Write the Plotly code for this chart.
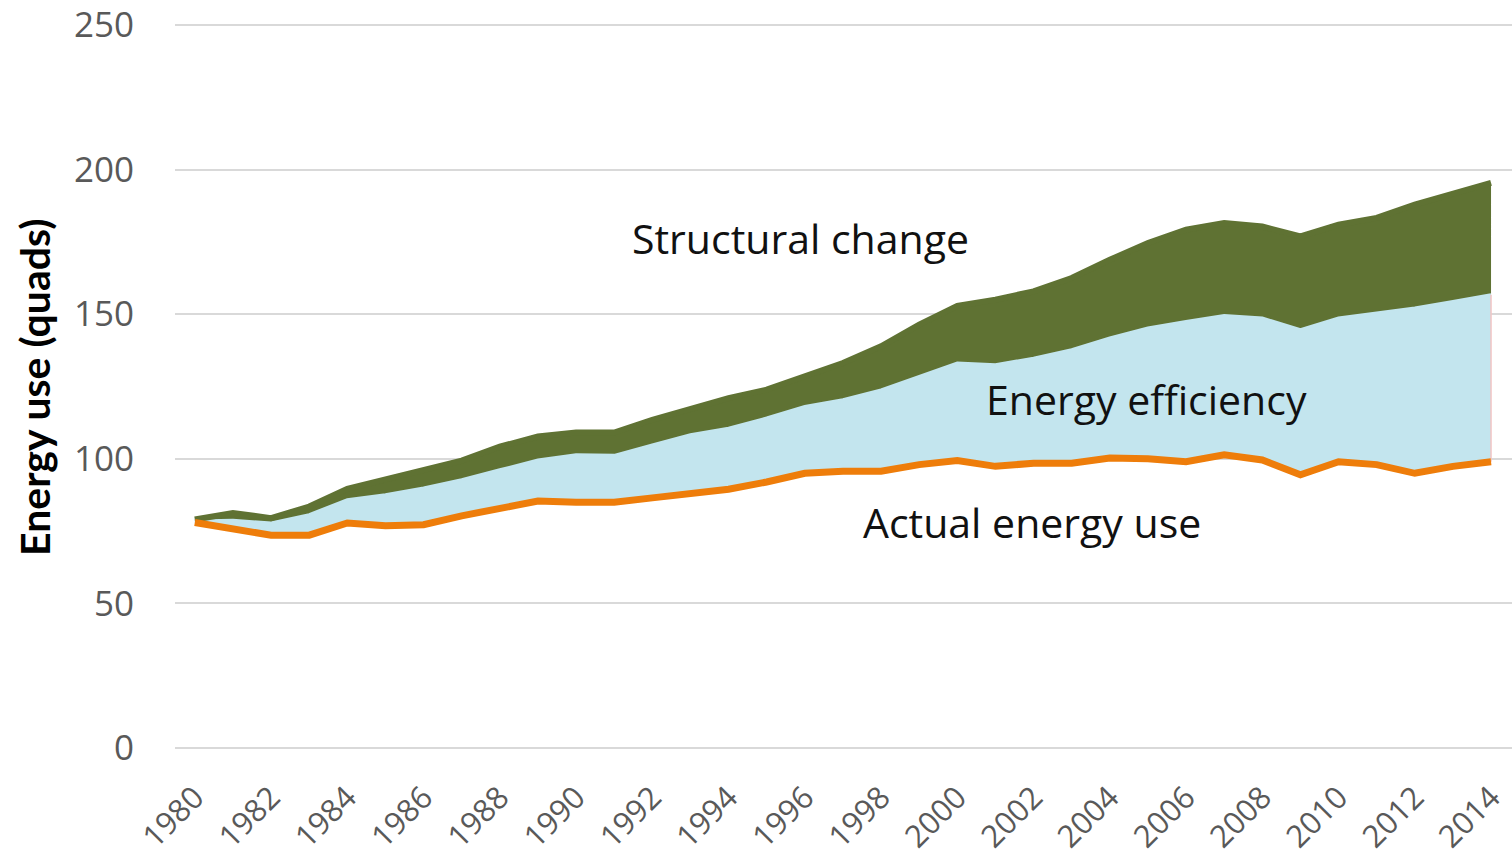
import numpy as np
import plotly.graph_objects as go

# ---- data (quads) ----
years = list(range(1980, 2015))
actual_use = [78.0, 76.0, 73.6, 73.6, 77.8, 76.9, 77.2, 80.3, 83.0, 85.4,
              85.0, 85.0, 86.5, 88.0, 89.5, 92.0, 95.0, 95.7, 95.7, 98.0,
              99.4, 97.4, 98.5, 98.5, 100.3, 100.0, 99.0, 101.4, 99.6, 94.5,
              99.0, 98.0, 95.0, 97.4, 99.0]
efficiency_savings = [0.5, 2.8, 4.2, 7.1, 8.1, 10.7, 12.7, 12.5, 13.2, 14.2,
                      16.4, 16.2, 18.3, 20.3, 21.1, 22.1, 23.1, 24.7, 28.1, 30.4,
                      33.7, 35.1, 36.3, 39.2, 41.5, 45.2, 48.5, 48.1, 49.1, 50.1,
                      49.7, 52.4, 57.1, 57.0, 57.7]
structural_change = [0.5, 2.5, 1.7, 2.8, 3.7, 5.2, 6.0, 6.6, 8.0, 8.1,
                     7.7, 7.9, 8.7, 8.7, 10.4, 9.8, 10.3, 12.7, 15.1, 18.0,
                     19.8, 22.5, 23.1, 24.8, 27.0, 29.4, 31.7, 32.0, 31.6, 32.3,
                     32.2, 32.9, 35.8, 37.0, 38.7]
y_ticks = [0, 50, 100, 150, 200, 250]
x_ticks = list(range(1980, 2015, 2))

labels = {"structural": "Structural change",
          "efficiency": "Energy efficiency",
          "actual": "Actual energy use"}

actual = np.array(actual_use)
eff_top = actual + np.array(efficiency_savings)
total = eff_top + np.array(structural_change)

GREEN = "#5F7233"
BLUE = "#C3E5EE"
ORANGE = "#EE7D0A"
GRID = "#D9D9D9"
TICK = "#595959"

fig = go.Figure()
# baseline (actual) - invisible, for fill reference
fig.add_trace(go.Scatter(x=years, y=actual, mode="lines",
                         line=dict(width=0, color=BLUE), showlegend=False,
                         hoverinfo="skip"))
# energy efficiency band
fig.add_trace(go.Scatter(x=years, y=eff_top, mode="lines", fill="tonexty",
                         fillcolor=BLUE, line=dict(width=3, color=BLUE),
                         name=labels["efficiency"], showlegend=False))
# structural change band
fig.add_trace(go.Scatter(x=years, y=total, mode="lines", fill="tonexty",
                         fillcolor=GREEN, line=dict(width=6, color=GREEN),
                         name=labels["structural"], showlegend=False))
# thin pink edge at right end
fig.add_trace(go.Scatter(x=[years[-1], years[-1]], y=[actual[-1], eff_top[-1]],
                         mode="lines", line=dict(width=1.5, color="#F2C4C4"),
                         showlegend=False, hoverinfo="skip"))
# actual energy use line
fig.add_trace(go.Scatter(x=years, y=actual, mode="lines",
                         line=dict(width=7, color=ORANGE),
                         name=labels["actual"], showlegend=False))

ann_font = dict(family="Open Sans, sans-serif", size=41, color="#111111")
fig.add_annotation(x=1995.9, y=176.3, text=labels["structural"], showarrow=False,
                   font=ann_font, xanchor="center", yanchor="middle")
fig.add_annotation(x=2004.95, y=120.7, text=labels["efficiency"], showarrow=False,
                   font=ann_font, xanchor="center", yanchor="middle")
fig.add_annotation(x=2001.95, y=78.1, text=labels["actual"], showarrow=False,
                   font=ann_font, xanchor="center", yanchor="middle")
# y-axis title
fig.add_annotation(xref="paper", x=0, xshift=-140, y=124.5, yref="y",
                   text="<b>Energy use (quads)</b>", textangle=-90,
                   showarrow=False,
                   font=dict(family="Lato, sans-serif", size=41,
                             color="#000000"),
                   xanchor="center", yanchor="middle")

fig.update_layout(
    width=1512, height=858,
    margin=dict(l=175, r=0, t=22, b=107),
    plot_bgcolor="white", paper_bgcolor="white",
    showlegend=False,
    xaxis=dict(range=[1979.48, 2014.55], tickvals=x_ticks,
               ticktext=[str(v) for v in x_ticks], tickangle=-45,
               showgrid=False, zeroline=False, showline=False,
               tickfont=dict(family="Open Sans, sans-serif", size=31, color=TICK),
               ticks="", ticklabelstandoff=21, automargin=False,
               ticklabeloverflow="allow"),
    yaxis=dict(range=[-1, 251], tickvals=y_ticks, showgrid=True,
               gridcolor=GRID, gridwidth=2, zeroline=False, showline=False,
               tickfont=dict(family="Open Sans, sans-serif", size=35, color=TICK),
               ticks="", ticklabelstandoff=40, automargin=False,
               ticklabeloverflow="allow"),
)

fig.write_html("out.html", config={"displayModeBar": False},
               post_script="document.body.style.margin='0px';document.body.style.overflow='hidden';")
